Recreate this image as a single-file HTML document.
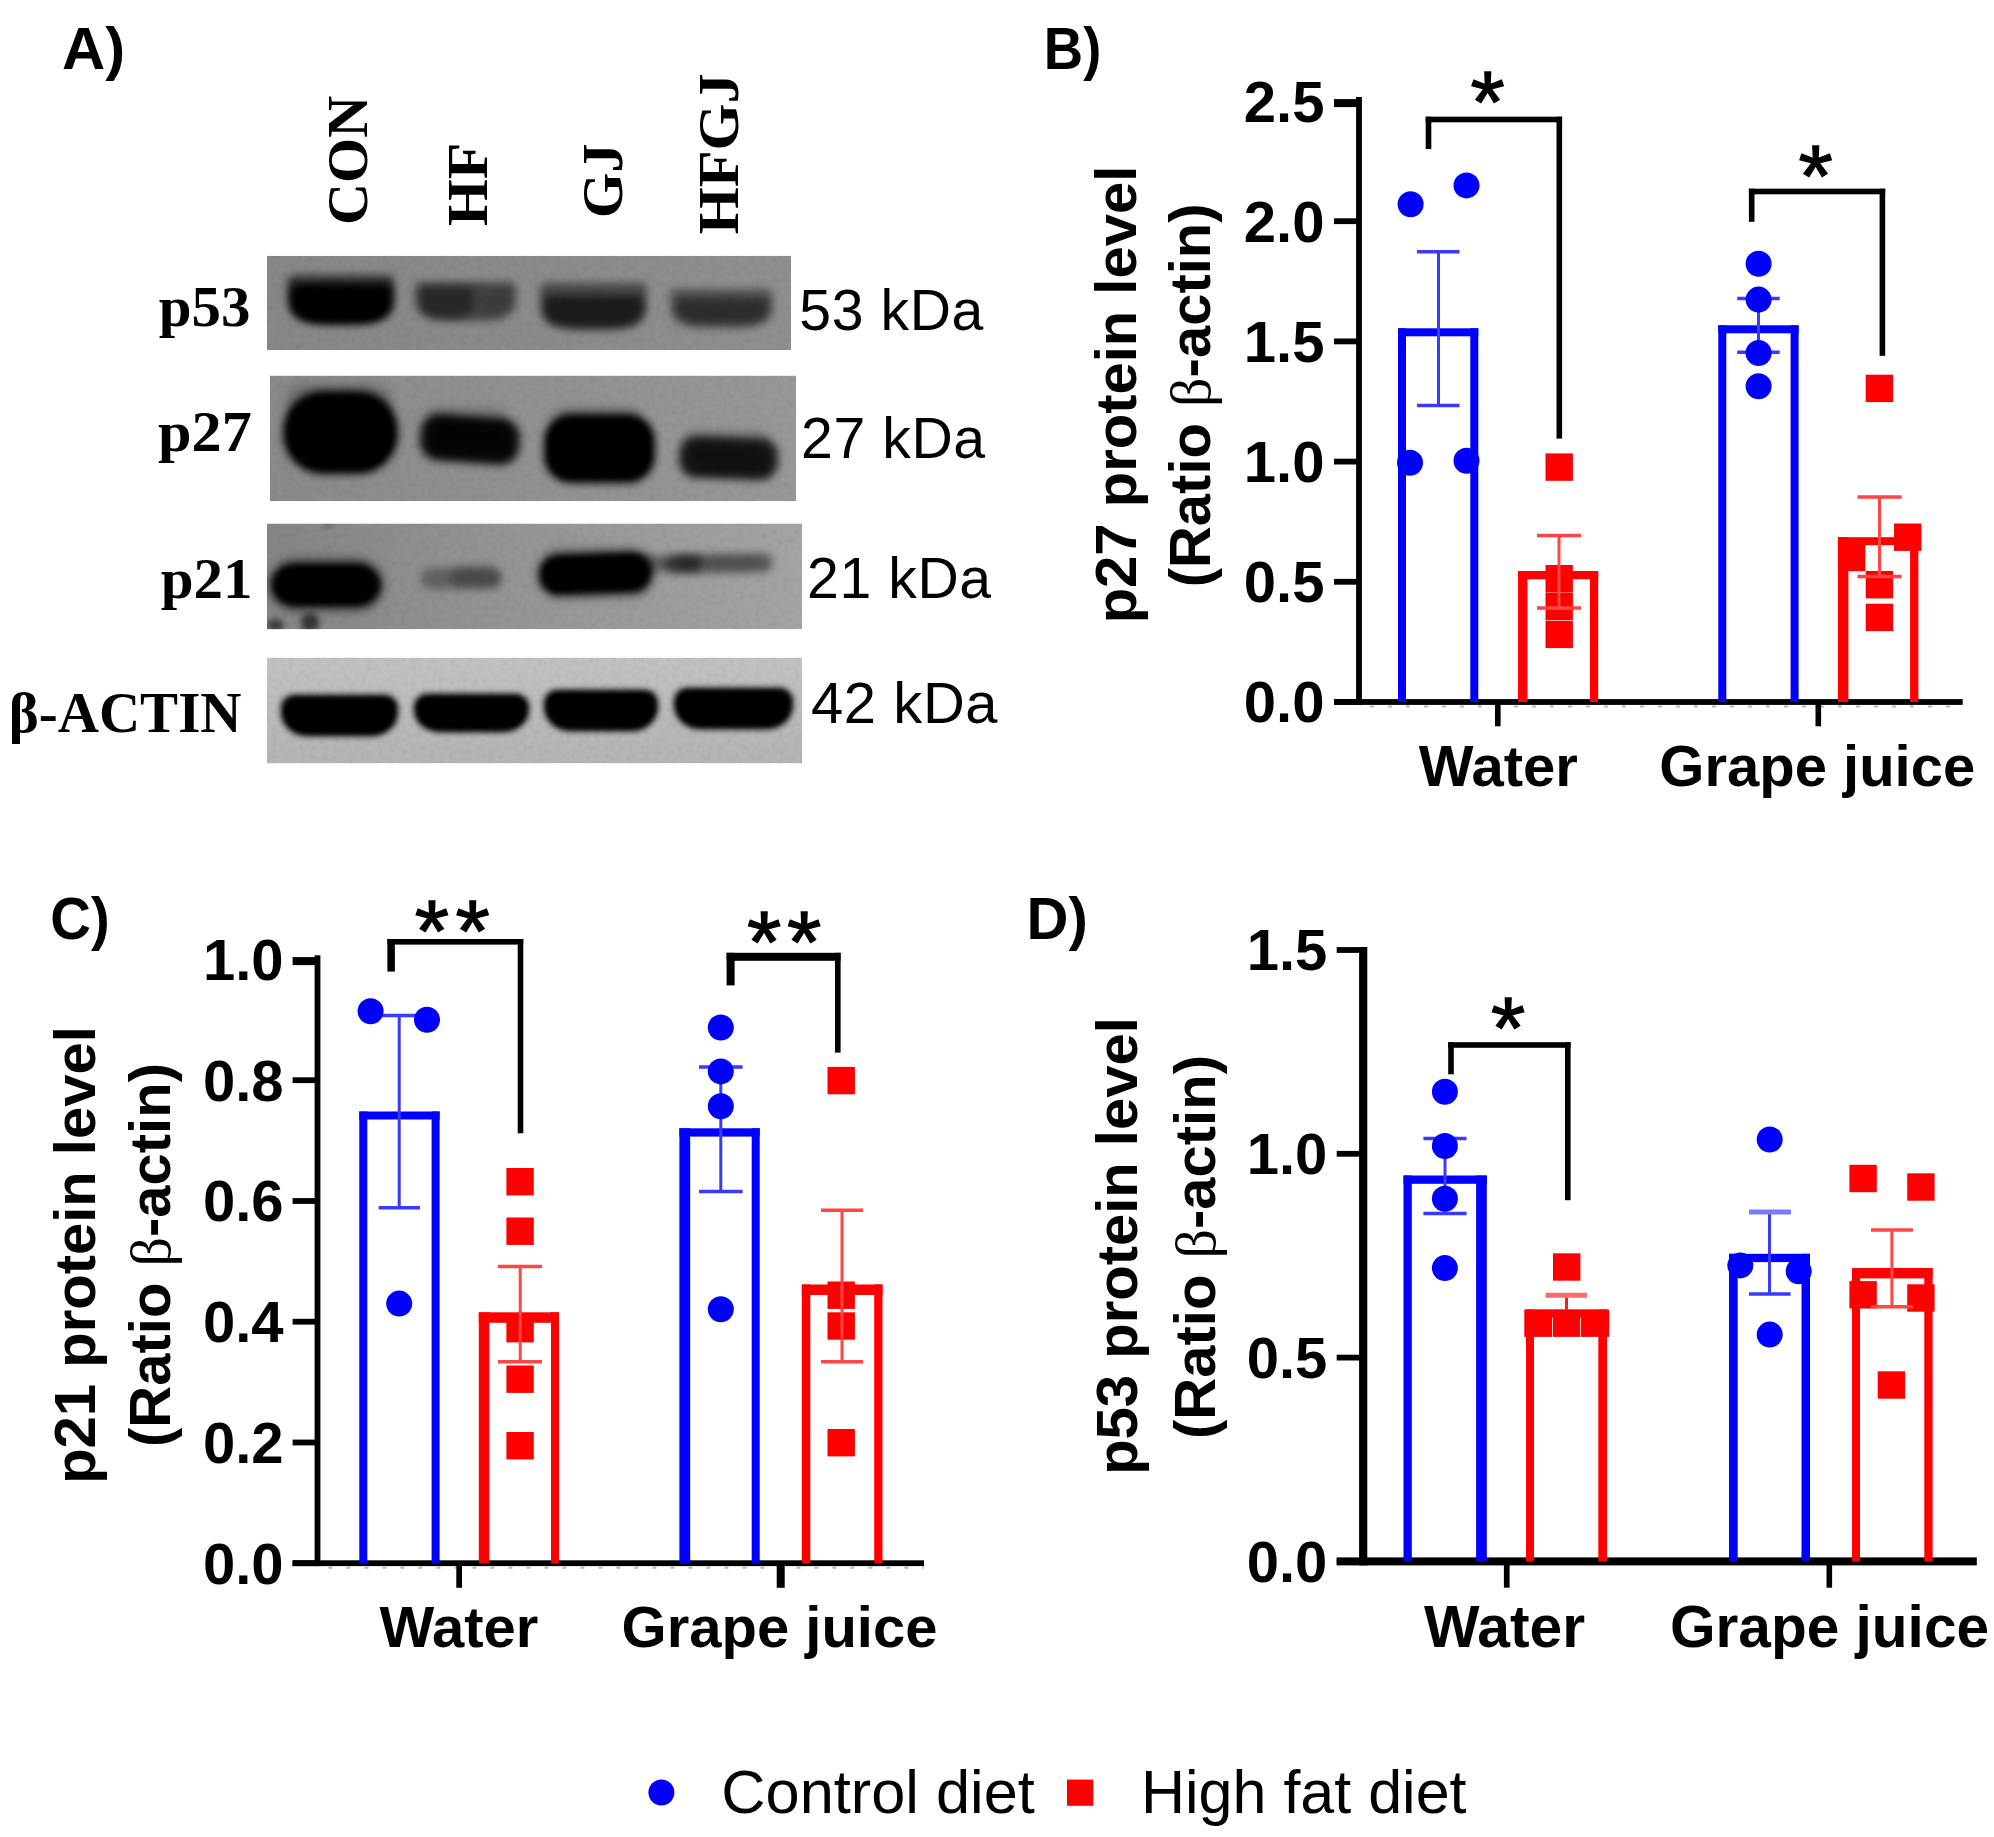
<!DOCTYPE html>
<html lang="en"><head><meta charset="utf-8"><title>Figure</title>
<style>
html,body{margin:0;padding:0;background:#fff;}
body{width:1994px;height:1837px;overflow:hidden;}
svg{display:block;}
</style></head><body>
<svg width="1994" height="1837" viewBox="0 0 1994 1837">
<defs>
<filter id="b3" x="-30%" y="-60%" width="160%" height="220%"><feGaussianBlur stdDeviation="3"/></filter>
<filter id="b4" x="-30%" y="-60%" width="160%" height="220%"><feGaussianBlur stdDeviation="4.2"/></filter>
<filter id="b6" x="-30%" y="-60%" width="160%" height="220%"><feGaussianBlur stdDeviation="6"/></filter>
<filter id="noise" x="0" y="0" width="100%" height="100%">
<feTurbulence type="fractalNoise" baseFrequency="0.18" numOctaves="2" seed="3" result="n"/>
<feColorMatrix type="matrix" values="0 0 0 0 0  0 0 0 0 0  0 0 0 0 0  0.9 0 0 0 -0.38"/>
</filter>
<linearGradient id="g21" x1="0" x2="1" y1="0" y2="0"><stop offset="0" stop-color="#858585"/><stop offset="0.5" stop-color="#969696"/><stop offset="1" stop-color="#a4a4a4"/></linearGradient>
<linearGradient id="g27" x1="0" x2="1" y1="0" y2="0"><stop offset="0" stop-color="#8a8a8a"/><stop offset="1" stop-color="#989898"/></linearGradient>
<linearGradient id="g53" x1="0" x2="1" y1="0" y2="0"><stop offset="0" stop-color="#878787"/><stop offset="1" stop-color="#8f8f8f"/></linearGradient>
<linearGradient id="gac" x1="0" x2="0" y1="0" y2="1"><stop offset="0" stop-color="#c2c2c2"/><stop offset="1" stop-color="#b4b4b4"/></linearGradient>
</defs>
<rect width="1994" height="1837" fill="#fff"/>

<g id="panelA">
<text transform="translate(62.0 69.0) scale(1.02 1)" font-family="Liberation Sans, Arial, sans-serif" font-size="58.6" font-weight="bold" text-anchor="start" fill="#000" >A)</text>
<text transform="translate(367.0 225.0) rotate(-90) scale(1.02 1)" font-family="Liberation Serif, Times New Roman, serif" font-size="57" font-weight="bold" text-anchor="start" fill="#000" >CON</text>
<text transform="translate(487.0 225.9) rotate(-90) scale(1.053 1)" font-family="Liberation Serif, Times New Roman, serif" font-size="57" font-weight="bold" text-anchor="start" fill="#000" >HF</text>
<text transform="translate(621.5 218.0) rotate(-90) scale(1.025 1)" font-family="Liberation Serif, Times New Roman, serif" font-size="57" font-weight="bold" text-anchor="start" fill="#000" >GJ</text>
<text transform="translate(738.0 234.2) rotate(-90) scale(1.058 1)" font-family="Liberation Serif, Times New Roman, serif" font-size="57" font-weight="bold" text-anchor="start" fill="#000" >HFGJ</text>
<text transform="translate(250.5 326.0) scale(1.035 1)" font-family="Liberation Serif, Times New Roman, serif" font-size="57" font-weight="bold" text-anchor="end" fill="#000" >p53</text>
<text transform="translate(251.8 450.8) scale(1.057 1)" font-family="Liberation Serif, Times New Roman, serif" font-size="57" font-weight="bold" text-anchor="end" fill="#000" >p27</text>
<text transform="translate(252.5 598.4) scale(1.035 1)" font-family="Liberation Serif, Times New Roman, serif" font-size="57" font-weight="bold" text-anchor="end" fill="#000" >p21</text>
<text x="241.5" y="731.6" font-family="Liberation Serif, Times New Roman, serif" font-size="57" font-weight="bold" text-anchor="end" fill="#000" >β-ACTIN</text>
<text transform="translate(799.3 329.6) scale(1.011 1)" font-family="Liberation Sans, Arial, sans-serif" font-size="56.5" font-weight="normal" text-anchor="start" fill="#000" letter-spacing="0.6">53 kDa</text>
<text transform="translate(801.0 458.4) scale(1.012 1)" font-family="Liberation Sans, Arial, sans-serif" font-size="56.5" font-weight="normal" text-anchor="start" fill="#000" letter-spacing="0.6">27 kDa</text>
<text transform="translate(807.0 597.8) scale(1.012 1)" font-family="Liberation Sans, Arial, sans-serif" font-size="56.5" font-weight="normal" text-anchor="start" fill="#000" letter-spacing="0.6">21 kDa</text>
<text transform="translate(811.0 723.0) scale(1.025 1)" font-family="Liberation Sans, Arial, sans-serif" font-size="56.5" font-weight="normal" text-anchor="start" fill="#000" letter-spacing="0.6">42 kDa</text>
<clipPath id="cp1"><rect x="267" y="255.7" width="524" height="94.30000000000001"/></clipPath>
<g clip-path="url(#cp1)">
<rect x="267" y="255.7" width="524" height="94.30000000000001" fill="url(#g53)"/>
<path d="M294.0 275.0H388.0Q394.0 275.0 394.0 281.0V295.6C394.0 324.0 370.7 324.0 341.0 324.0C311.3 324.0 288.0 324.0 288.0 295.6V281.0Q288.0 275.0 294.0 275.0Z" fill="#000" fill-opacity="0.62" filter="url(#b4)"/>
<path d="M296.0 284.0H386.0Q392.0 284.0 392.0 290.0V300.4C392.0 323.0 369.6 323.0 341.0 323.0C312.4 323.0 290.0 323.0 290.0 300.4V290.0Q290.0 284.0 296.0 284.0Z" fill="#000" fill-opacity="1.0" filter="url(#b4)"/>
<path d="M303.0 290.0H379.0Q385.0 290.0 385.0 296.0V302.2C385.0 319.0 365.6 319.0 341.0 319.0C316.4 319.0 297.0 319.0 297.0 302.2V296.0Q297.0 290.0 303.0 290.0Z" fill="#000" fill-opacity="0.9" filter="url(#b3)"/>
<path d="M421.0 282.0H510.0Q516.0 282.0 516.0 288.0V298.4C516.0 321.0 493.8 321.0 465.5 321.0C437.2 321.0 415.0 321.0 415.0 298.4V288.0Q415.0 282.0 421.0 282.0Z" fill="#000" fill-opacity="0.5" filter="url(#b4)"/>
<path d="M426.0 287.0H468.0Q474.0 287.0 474.0 293.0V300.0C474.0 318.0 462.1 318.0 447.0 318.0C431.9 318.0 420.0 318.0 420.0 300.0V293.0Q420.0 287.0 426.0 287.0Z" fill="#000" fill-opacity="0.42" filter="url(#b4)"/>
<path d="M484.0 290.0H506.0Q512.0 290.0 512.0 296.0V300.9C512.0 316.0 504.5 316.0 495.0 316.0C485.5 316.0 478.0 316.0 478.0 300.9V296.0Q478.0 290.0 484.0 290.0Z" fill="#000" fill-opacity="0.12" filter="url(#b4)"/>
<path d="M546.0 283.0H641.0Q647.0 283.0 647.0 289.0V302.7C647.0 330.0 623.5 330.0 593.5 330.0C563.5 330.0 540.0 330.0 540.0 302.7V289.0Q540.0 283.0 546.0 283.0Z" fill="#000" fill-opacity="0.5" filter="url(#b4)"/>
<path d="M550.0 296.0H637.0Q643.0 296.0 643.0 302.0V309.0C643.0 327.0 621.2 327.0 593.5 327.0C565.8 327.0 544.0 327.0 544.0 309.0V302.0Q544.0 296.0 550.0 296.0Z" fill="#000" fill-opacity="0.62" filter="url(#b4)"/>
<path d="M676.0 289.0H767.0Q773.0 289.0 773.0 295.0V305.4C773.0 328.0 750.3 328.0 721.5 328.0C692.7 328.0 670.0 328.0 670.0 305.4V295.0Q670.0 289.0 676.0 289.0Z" fill="#000" fill-opacity="0.42" filter="url(#b4)"/>
<path d="M682.0 298.0H762.0Q768.0 298.0 768.0 304.0V308.9C768.0 324.0 747.8 324.0 722.0 324.0C696.2 324.0 676.0 324.0 676.0 308.9V304.0Q676.0 298.0 682.0 298.0Z" fill="#000" fill-opacity="0.45" filter="url(#b4)"/>

<rect x="267" y="255.7" width="524" height="94.30000000000001" fill="#000" filter="url(#noise)" opacity="0.10"/>
</g>
<clipPath id="cp2"><rect x="270" y="375.6" width="526.2" height="125.59999999999997"/></clipPath>
<g clip-path="url(#cp2)">
<rect x="270" y="375.6" width="526.2" height="125.59999999999997" fill="url(#g27)"/>
<rect x="286" y="384" width="106" height="36" rx="18" ry="18.0" fill="#000" fill-opacity="0.22" filter="url(#b6)"/>
<rect x="283" y="391" width="115" height="83" rx="40" ry="40.0" fill="#000" fill-opacity="1.0" filter="url(#b4)"/>
<rect x="289" y="397" width="103" height="71" rx="34" ry="34.0" fill="#000" fill-opacity="1" filter="url(#b3)"/>
<rect x="424" y="408" width="84" height="32" rx="14" ry="14.0" fill="#000" fill-opacity="0.2" filter="url(#b6)"/>
<rect x="420" y="416" width="100" height="47" rx="19" ry="19.0" fill="#000" fill-opacity="0.88" filter="url(#b4)" transform="rotate(4 470.0 439.5)"/>
<rect x="428" y="422" width="84" height="35" rx="14" ry="14.0" fill="#000" fill-opacity="0.7" filter="url(#b3)" transform="rotate(4 470.0 439.5)"/>
<rect x="552" y="408" width="88" height="22" rx="10" ry="10.0" fill="#000" fill-opacity="0.2" filter="url(#b6)"/>
<rect x="544" y="414" width="111" height="69" rx="27" ry="27.0" fill="#000" fill-opacity="1.0" filter="url(#b4)"/>
<rect x="550" y="420" width="99" height="57" rx="21" ry="21.0" fill="#000" fill-opacity="1" filter="url(#b3)"/>
<rect x="684" y="430" width="86" height="22" rx="10" ry="10.0" fill="#000" fill-opacity="0.15" filter="url(#b6)"/>
<rect x="679" y="437" width="99" height="42" rx="17" ry="17.0" fill="#000" fill-opacity="0.8" filter="url(#b4)" transform="rotate(2 728.5 458.0)"/>
<rect x="688" y="446" width="82" height="28" rx="12" ry="12.0" fill="#000" fill-opacity="0.45" filter="url(#b4)" transform="rotate(2 729.0 460.0)"/>

<rect x="270" y="375.6" width="526.2" height="125.59999999999997" fill="#000" filter="url(#noise)" opacity="0.10"/>
</g>
<clipPath id="cp3"><rect x="267" y="523.5" width="535.1" height="105.79999999999995"/></clipPath>
<g clip-path="url(#cp3)">
<rect x="267" y="523.5" width="535.1" height="105.79999999999995" fill="url(#g21)"/>
<rect x="270" y="557" width="114" height="55" rx="27" ry="27.0" fill="#000" fill-opacity="0.25" filter="url(#b6)"/>
<rect x="271" y="563" width="110" height="44" rx="24" ry="22.0" fill="#000" fill-opacity="1.0" filter="url(#b4)"/>
<rect x="276" y="568" width="100" height="34" rx="19" ry="17.0" fill="#000" fill-opacity="1" filter="url(#b3)"/>
<rect x="421" y="568" width="81" height="21" rx="10.5" ry="10.5" fill="#000" fill-opacity="0.33" filter="url(#b4)"/>
<rect x="450" y="566" width="50" height="21" rx="10.5" ry="10.5" fill="#000" fill-opacity="0.25" filter="url(#b4)"/>
<rect x="538" y="548" width="117" height="50" rx="24" ry="24.0" fill="#000" fill-opacity="0.22" filter="url(#b6)"/>
<rect x="539" y="553" width="113" height="41" rx="20" ry="20.0" fill="#000" fill-opacity="1.0" filter="url(#b4)" transform="rotate(-2 595.5 573.5)"/>
<rect x="544" y="558" width="103" height="31" rx="15" ry="15.0" fill="#000" fill-opacity="1" filter="url(#b3)" transform="rotate(-2 595.5 573.5)"/>
<rect x="640" y="556" width="60" height="15" rx="7.5" ry="7.5" fill="#000" fill-opacity="0.4" filter="url(#b4)"/>
<rect x="664" y="554" width="109" height="19" rx="9.5" ry="9.5" fill="#000" fill-opacity="0.42" filter="url(#b4)" transform="rotate(-1 718.5 563.5)"/>
<rect x="675" y="555" width="30" height="16" rx="8.0" ry="8.0" fill="#000" fill-opacity="0.3" filter="url(#b4)"/>
<rect x="705" y="556" width="60" height="14" rx="7.0" ry="7.0" fill="#000" fill-opacity="0.15" filter="url(#b4)"/>
<rect x="301" y="613" width="18" height="19" rx="8" ry="8.0" fill="#000" fill-opacity="0.6" filter="url(#b3)"/>
<rect x="267" y="619" width="17" height="13" rx="8" ry="6.5" fill="#000" fill-opacity="0.55" filter="url(#b3)"/>
<rect x="323" y="523" width="10" height="4" rx="2" ry="2.0" fill="#000" fill-opacity="0.4" filter="url(#b3)"/>

<rect x="267" y="523.5" width="535.1" height="105.79999999999995" fill="#000" filter="url(#noise)" opacity="0.10"/>
</g>
<clipPath id="cp4"><rect x="267" y="657.6" width="535.1" height="105.79999999999995"/></clipPath>
<g clip-path="url(#cp4)">
<rect x="267" y="657.6" width="535.1" height="105.79999999999995" fill="url(#gac)"/>
<path d="M294.0 695.0H385.0A13 13 0 0 1 398.0 708.0V712.2A26 23.8 0 0 1 372.0 736.0H307.0A26 23.8 0 0 1 281.0 712.2V708.0A13 13 0 0 1 294.0 695.0Z" fill="#000" fill-opacity="1.0" filter="url(#b3)"/>
<path d="M296.0 699.0H383.0A10 10 0 0 1 393.0 709.0V712.9A22 19.1 0 0 1 371.0 732.0H308.0A22 19.1 0 0 1 286.0 712.9V709.0A10 10 0 0 1 296.0 699.0Z" fill="#000" fill-opacity="1.0" filter="url(#b3)"/>
<path d="M427.0 694.0H516.0A13 13 0 0 1 529.0 707.0V710.0A26 22.0 0 0 1 503.0 732.0H440.0A26 22.0 0 0 1 414.0 710.0V707.0A13 13 0 0 1 427.0 694.0Z" fill="#000" fill-opacity="1.0" filter="url(#b3)"/>
<path d="M429.0 698.0H514.0A10 10 0 0 1 524.0 708.0V710.6A22 17.4 0 0 1 502.0 728.0H441.0A22 17.4 0 0 1 419.0 710.6V708.0A10 10 0 0 1 429.0 698.0Z" fill="#000" fill-opacity="1.0" filter="url(#b3)"/>
<path d="M557.0 690.0H645.0A13 13 0 0 1 658.0 703.0V707.2A26 23.8 0 0 1 632.0 731.0H570.0A26 23.8 0 0 1 544.0 707.2V703.0A13 13 0 0 1 557.0 690.0Z" fill="#000" fill-opacity="1.0" filter="url(#b3)"/>
<path d="M559.0 694.0H643.0A10 10 0 0 1 653.0 704.0V707.9A22 19.1 0 0 1 631.0 727.0H571.0A22 19.1 0 0 1 549.0 707.9V704.0A10 10 0 0 1 559.0 694.0Z" fill="#000" fill-opacity="1.0" filter="url(#b3)"/>
<path d="M687.0 688.0H780.0A13 13 0 0 1 793.0 701.0V705.2A26 23.8 0 0 1 767.0 729.0H700.0A26 23.8 0 0 1 674.0 705.2V701.0A13 13 0 0 1 687.0 688.0Z" fill="#000" fill-opacity="1.0" filter="url(#b3)"/>
<path d="M689.0 692.0H778.0A10 10 0 0 1 788.0 702.0V705.9A22 19.1 0 0 1 766.0 725.0H701.0A22 19.1 0 0 1 679.0 705.9V702.0A10 10 0 0 1 689.0 692.0Z" fill="#000" fill-opacity="1.0" filter="url(#b3)"/>

<rect x="267" y="657.6" width="535.1" height="105.79999999999995" fill="#000" filter="url(#noise)" opacity="0.10"/>
</g>
</g>
<g id="panelB">
<text transform="translate(1043.8 69.0) scale(0.93 1)" font-family="Liberation Sans, Arial, sans-serif" font-size="58.6" font-weight="bold" text-anchor="start" fill="#000" >B)</text>
<path d="M1369.9 706.5H1962.7" stroke="#b8b8b8" stroke-width="2" stroke-dasharray="4 14" fill="none"/>
<rect x="1356.1" y="97.0" width="5.8" height="607.9" fill="#000" />
<rect x="1334.0" y="699.1" width="628.7" height="5.8" fill="#000" />
<rect x="1334.0" y="99.1" width="25.0" height="8.0" fill="#000" />
<text x="1324.5" y="122.4" font-family="Liberation Sans, Arial, sans-serif" font-size="58" font-weight="bold" text-anchor="end" fill="#000" >2.5</text>
<rect x="1334.0" y="218.3" width="25.0" height="5.8" fill="#000" />
<text x="1324.5" y="241.6" font-family="Liberation Sans, Arial, sans-serif" font-size="58" font-weight="bold" text-anchor="end" fill="#000" >2.0</text>
<rect x="1334.0" y="338.5" width="25.0" height="5.8" fill="#000" />
<text x="1324.5" y="361.8" font-family="Liberation Sans, Arial, sans-serif" font-size="58" font-weight="bold" text-anchor="end" fill="#000" >1.5</text>
<rect x="1334.0" y="458.7" width="25.0" height="5.8" fill="#000" />
<text x="1324.5" y="482.0" font-family="Liberation Sans, Arial, sans-serif" font-size="58" font-weight="bold" text-anchor="end" fill="#000" >1.0</text>
<rect x="1334.0" y="578.9" width="25.0" height="5.8" fill="#000" />
<text x="1324.5" y="602.2" font-family="Liberation Sans, Arial, sans-serif" font-size="58" font-weight="bold" text-anchor="end" fill="#000" >0.5</text>
<rect x="1334.0" y="699.1" width="25.0" height="5.8" fill="#000" />
<text x="1324.5" y="722.4" font-family="Liberation Sans, Arial, sans-serif" font-size="58" font-weight="bold" text-anchor="end" fill="#000" >0.0</text>
<rect x="1495.0" y="702.0" width="5.6" height="24.3" fill="#000" />
<rect x="1815.5" y="702.0" width="5.6" height="24.3" fill="#000" />
<text transform="translate(1136.0 394.5) rotate(-90) scale(1 1)" font-family="Liberation Sans, Arial, sans-serif" font-size="58" font-weight="bold" text-anchor="middle" fill="#000" >p27 protein level</text>
<text transform="translate(1210.3 395.4) rotate(-90)" font-family="Liberation Sans, Arial, sans-serif" font-size="58" font-weight="bold" text-anchor="middle" fill="#000">(Ratio <tspan font-family="Liberation Serif, Times New Roman, serif" font-weight="normal">β</tspan>-actin)</text>
<text x="1498.3" y="786.0" font-family="Liberation Sans, Arial, sans-serif" font-size="58" font-weight="bold" text-anchor="middle" fill="#000" >Water</text>
<text x="1817.3" y="786.4" font-family="Liberation Sans, Arial, sans-serif" font-size="58" font-weight="bold" text-anchor="middle" fill="#000" >Grape juice</text>
<rect x="1398.0" y="328.3" width="8.0" height="373.7" fill="#0000ff" />
<rect x="1470.3" y="328.3" width="8.0" height="373.7" fill="#0000ff" />
<rect x="1398.0" y="328.3" width="80.3" height="8.0" fill="#0000ff" />
<rect x="1518.0" y="571.0" width="9.5" height="131.0" fill="#ff0000" />
<rect x="1589.9" y="571.0" width="8.3" height="131.0" fill="#ff0000" />
<rect x="1518.0" y="571.0" width="80.2" height="8.3" fill="#ff0000" />
<rect x="1718.3" y="325.3" width="8.0" height="376.7" fill="#0000ff" />
<rect x="1790.6" y="325.3" width="8.0" height="376.7" fill="#0000ff" />
<rect x="1718.3" y="325.3" width="80.3" height="8.0" fill="#0000ff" />
<rect x="1837.9" y="537.2" width="10.5" height="164.8" fill="#ff0000" />
<rect x="1910.1" y="537.2" width="8.3" height="164.8" fill="#ff0000" />
<rect x="1837.9" y="537.2" width="80.5" height="8.0" fill="#ff0000" />
<path d="M1438.5 251.8V405.5" stroke="#3a3aff" stroke-width="3" fill="none"/>
<path d="M1417.0 251.8H1459.5" stroke="#3a3aff" stroke-width="3.5" fill="none"/>
<path d="M1417.0 405.5H1459.5" stroke="#3a3aff" stroke-width="3.5" fill="none"/>
<path d="M1758.5 298.5V352.3" stroke="#3a3aff" stroke-width="3" fill="none"/>
<path d="M1737.2 298.5H1779.7" stroke="#3a3aff" stroke-width="3.5" fill="none"/>
<path d="M1737.2 352.3H1779.7" stroke="#3a3aff" stroke-width="3.5" fill="none"/>
<circle cx="1410.6" cy="204.2" r="13" fill="#0000ff"/>
<circle cx="1466.5" cy="185.4" r="13" fill="#0000ff"/>
<circle cx="1410.0" cy="462.7" r="13" fill="#0000ff"/>
<circle cx="1466.5" cy="460.7" r="13" fill="#0000ff"/>
<circle cx="1758.6" cy="263.7" r="13" fill="#0000ff"/>
<circle cx="1758.6" cy="299.6" r="13" fill="#0000ff"/>
<circle cx="1758.6" cy="353.0" r="13" fill="#0000ff"/>
<circle cx="1758.6" cy="386.3" r="13" fill="#0000ff"/>
<rect x="1545.5" y="453.4" width="27.4" height="27.4" fill="#ff0000" />
<rect x="1545.5" y="565.0" width="27.4" height="27.4" fill="#ff0000" />
<rect x="1545.5" y="592.6" width="27.4" height="27.4" fill="#ff0000" />
<rect x="1545.5" y="620.7" width="27.4" height="27.4" fill="#ff0000" />
<rect x="1865.7" y="374.7" width="27.4" height="27.4" fill="#ff0000" />
<rect x="1894.0" y="523.5" width="27.4" height="27.4" fill="#ff0000" />
<rect x="1837.9" y="543.8" width="27.4" height="27.4" fill="#ff0000" />
<rect x="1865.7" y="571.0" width="27.4" height="27.4" fill="#ff0000" />
<rect x="1865.7" y="603.7" width="27.4" height="27.4" fill="#ff0000" />
<path d="M1559.0 535.4V608.0" stroke="#ff4545" stroke-width="3" fill="none"/>
<path d="M1537.0 535.4H1581.0" stroke="#ff4545" stroke-width="3.5" fill="none"/>
<path d="M1537.0 608.0H1581.0" stroke="#ff4545" stroke-width="3.5" fill="none"/>
<path d="M1879.5 496.9V576.4" stroke="#ff4545" stroke-width="3" fill="none"/>
<path d="M1857.5 496.9H1901.7" stroke="#ff4545" stroke-width="3.5" fill="none"/>
<path d="M1857.5 576.4H1901.7" stroke="#ff4545" stroke-width="3.5" fill="none"/>
<rect x="1425.7" y="116.7" width="136.4" height="5.6" fill="#000" />
<rect x="1425.7" y="116.7" width="5.6" height="32.3" fill="#000" />
<rect x="1556.5" y="116.7" width="5.6" height="321.9" fill="#000" />
<rect x="1748.9" y="188.7" width="136.3" height="5.6" fill="#000" />
<rect x="1748.9" y="188.7" width="5.6" height="33.1" fill="#000" />
<rect x="1879.6" y="188.7" width="5.6" height="167.1" fill="#000" />
<text x="1487.6" y="131.9" font-family="Liberation Sans, Arial, sans-serif" font-size="88" text-anchor="middle" fill="#000" stroke="#000" stroke-width="1.3" stroke-linejoin="miter">*</text>
<text x="1815.6" y="205.6" font-family="Liberation Sans, Arial, sans-serif" font-size="88" text-anchor="middle" fill="#000" stroke="#000" stroke-width="1.3" stroke-linejoin="miter">*</text>
</g>
<g id="panelC">
<text transform="translate(50.3 938.5) scale(0.96 1)" font-family="Liberation Sans, Arial, sans-serif" font-size="58.6" font-weight="bold" text-anchor="start" fill="#000" >C)</text>
<path d="M328.4 1567.7H924.0" stroke="#b8b8b8" stroke-width="2" stroke-dasharray="4 14" fill="none"/>
<rect x="314.6" y="955.3" width="5.8" height="610.8" fill="#000" />
<rect x="292.6" y="1560.3" width="631.4" height="5.8" fill="#000" />
<rect x="292.6" y="957.1" width="24.9" height="8.0" fill="#000" />
<text x="283.6" y="980.4" font-family="Liberation Sans, Arial, sans-serif" font-size="58" font-weight="bold" text-anchor="end" fill="#000" >1.0</text>
<rect x="292.6" y="1077.3" width="24.9" height="5.8" fill="#000" />
<text x="283.6" y="1100.6" font-family="Liberation Sans, Arial, sans-serif" font-size="58" font-weight="bold" text-anchor="end" fill="#000" >0.8</text>
<rect x="292.6" y="1198.1" width="24.9" height="5.8" fill="#000" />
<text x="283.6" y="1221.4" font-family="Liberation Sans, Arial, sans-serif" font-size="58" font-weight="bold" text-anchor="end" fill="#000" >0.6</text>
<rect x="292.6" y="1318.8" width="24.9" height="5.8" fill="#000" />
<text x="283.6" y="1342.1" font-family="Liberation Sans, Arial, sans-serif" font-size="58" font-weight="bold" text-anchor="end" fill="#000" >0.4</text>
<rect x="292.6" y="1439.6" width="24.9" height="5.8" fill="#000" />
<text x="283.6" y="1462.9" font-family="Liberation Sans, Arial, sans-serif" font-size="58" font-weight="bold" text-anchor="end" fill="#000" >0.2</text>
<rect x="292.6" y="1560.3" width="24.9" height="5.8" fill="#000" />
<text x="283.6" y="1583.6" font-family="Liberation Sans, Arial, sans-serif" font-size="58" font-weight="bold" text-anchor="end" fill="#000" >0.0</text>
<rect x="456.3" y="1563.2" width="5.7" height="24.6" fill="#000" />
<rect x="776.7" y="1563.2" width="8.0" height="24.6" fill="#000" />
<text transform="translate(95.0 1255.0) rotate(-90) scale(1 1)" font-family="Liberation Sans, Arial, sans-serif" font-size="58" font-weight="bold" text-anchor="middle" fill="#000" >p21 protein level</text>
<text transform="translate(170.3 1255) rotate(-90)" font-family="Liberation Sans, Arial, sans-serif" font-size="58" font-weight="bold" text-anchor="middle" fill="#000">(Ratio <tspan font-family="Liberation Serif, Times New Roman, serif" font-weight="normal">β</tspan>-actin)</text>
<text x="458.9" y="1647.0" font-family="Liberation Sans, Arial, sans-serif" font-size="58" font-weight="bold" text-anchor="middle" fill="#000" >Water</text>
<text x="779.5" y="1647.0" font-family="Liberation Sans, Arial, sans-serif" font-size="58" font-weight="bold" text-anchor="middle" fill="#000" >Grape juice</text>
<rect x="359.3" y="1111.5" width="8.0" height="451.7" fill="#0000ff" />
<rect x="431.6" y="1111.5" width="8.0" height="451.7" fill="#0000ff" />
<rect x="359.3" y="1111.5" width="80.3" height="8.0" fill="#0000ff" />
<rect x="478.8" y="1312.3" width="10.5" height="250.9" fill="#ff0000" />
<rect x="551.0" y="1312.3" width="8.0" height="250.9" fill="#ff0000" />
<rect x="478.8" y="1312.3" width="80.2" height="10.5" fill="#ff0000" />
<rect x="679.4" y="1128.3" width="10.8" height="434.9" fill="#0000ff" />
<rect x="751.7" y="1128.3" width="8.0" height="434.9" fill="#0000ff" />
<rect x="679.4" y="1128.3" width="80.3" height="8.3" fill="#0000ff" />
<rect x="801.8" y="1284.5" width="8.5" height="278.7" fill="#ff0000" />
<rect x="874.2" y="1284.5" width="8.3" height="278.7" fill="#ff0000" />
<rect x="801.8" y="1284.5" width="80.7" height="10.5" fill="#ff0000" />
<path d="M399.2 1015.5V1207.8" stroke="#3a3aff" stroke-width="3" fill="none"/>
<path d="M378.6 1015.5H420.0" stroke="#3a3aff" stroke-width="3.5" fill="none"/>
<path d="M378.6 1207.8H420.0" stroke="#3a3aff" stroke-width="3.5" fill="none"/>
<path d="M720.8 1066.9V1191.5" stroke="#3a3aff" stroke-width="3" fill="none"/>
<path d="M699.0 1066.9H742.6" stroke="#3a3aff" stroke-width="3.5" fill="none"/>
<path d="M699.0 1191.5H742.6" stroke="#3a3aff" stroke-width="3.5" fill="none"/>
<circle cx="370.6" cy="1011.2" r="13" fill="#0000ff"/>
<circle cx="427.0" cy="1019.7" r="13" fill="#0000ff"/>
<circle cx="399.2" cy="1303.6" r="13" fill="#0000ff"/>
<circle cx="720.8" cy="1027.5" r="13" fill="#0000ff"/>
<circle cx="720.8" cy="1071.4" r="13" fill="#0000ff"/>
<circle cx="720.8" cy="1106.2" r="13" fill="#0000ff"/>
<circle cx="720.8" cy="1309.3" r="13" fill="#0000ff"/>
<rect x="506.4" y="1168.0" width="27.4" height="27.4" fill="#ff0000" />
<rect x="506.4" y="1217.5" width="27.4" height="27.4" fill="#ff0000" />
<rect x="506.4" y="1315.0" width="27.4" height="27.4" fill="#ff0000" />
<rect x="506.4" y="1365.5" width="27.4" height="27.4" fill="#ff0000" />
<rect x="506.4" y="1432.0" width="27.4" height="27.4" fill="#ff0000" />
<rect x="827.5" y="1066.9" width="27.4" height="27.4" fill="#ff0000" />
<rect x="827.5" y="1281.5" width="27.4" height="27.4" fill="#ff0000" />
<rect x="827.5" y="1312.3" width="27.4" height="27.4" fill="#ff0000" />
<rect x="827.5" y="1429.0" width="27.4" height="27.4" fill="#ff0000" />
<path d="M520.2 1266.4V1361.7" stroke="#ff4545" stroke-width="3" fill="none"/>
<path d="M498.0 1266.4H542.0" stroke="#ff4545" stroke-width="3.5" fill="none"/>
<path d="M498.0 1361.7H542.0" stroke="#ff4545" stroke-width="3.5" fill="none"/>
<path d="M842.0 1210.3V1361.7" stroke="#ff4545" stroke-width="3" fill="none"/>
<path d="M821.0 1210.3H863.0" stroke="#ff4545" stroke-width="3.5" fill="none"/>
<path d="M821.0 1361.7H863.0" stroke="#ff4545" stroke-width="3.5" fill="none"/>
<rect x="387.4" y="939.0" width="135.8" height="5.6" fill="#000" />
<rect x="387.4" y="939.0" width="7.5" height="32.6" fill="#000" />
<rect x="517.7" y="939.0" width="5.6" height="194.3" fill="#000" />
<rect x="726.6" y="952.8" width="114.0" height="8.0" fill="#000" />
<rect x="726.6" y="952.8" width="8.0" height="32.6" fill="#000" />
<rect x="835.0" y="952.8" width="5.6" height="99.8" fill="#000" />
<text x="431.8" y="960.9" font-family="Liberation Sans, Arial, sans-serif" font-size="88" text-anchor="middle" fill="#000" stroke="#000" stroke-width="1.3" stroke-linejoin="miter">*</text>
<text x="472.7" y="960.9" font-family="Liberation Sans, Arial, sans-serif" font-size="88" text-anchor="middle" fill="#000" stroke="#000" stroke-width="1.3" stroke-linejoin="miter">*</text>
<text x="764.2" y="972.4" font-family="Liberation Sans, Arial, sans-serif" font-size="88" text-anchor="middle" fill="#000" stroke="#000" stroke-width="1.3" stroke-linejoin="miter">*</text>
<text x="804.0" y="972.4" font-family="Liberation Sans, Arial, sans-serif" font-size="88" text-anchor="middle" fill="#000" stroke="#000" stroke-width="1.3" stroke-linejoin="miter">*</text>
</g>
<g id="panelD">
<text transform="translate(1026.5 938.5) scale(0.99 1)" font-family="Liberation Sans, Arial, sans-serif" font-size="58.6" font-weight="bold" text-anchor="start" fill="#000" >D)</text>
<rect x="1359.1" y="947.0" width="8.2" height="618.4" fill="#000" />
<rect x="1336.7" y="1557.4" width="640.1" height="8.0" fill="#000" />
<rect x="1336.7" y="947.1" width="26.5" height="5.8" fill="#000" />
<text x="1327.4" y="970.4" font-family="Liberation Sans, Arial, sans-serif" font-size="58" font-weight="bold" text-anchor="end" fill="#000" >1.5</text>
<rect x="1336.7" y="1150.9" width="26.5" height="5.8" fill="#000" />
<text x="1327.4" y="1174.2" font-family="Liberation Sans, Arial, sans-serif" font-size="58" font-weight="bold" text-anchor="end" fill="#000" >1.0</text>
<rect x="1336.7" y="1354.7" width="26.5" height="5.8" fill="#000" />
<text x="1327.4" y="1378.0" font-family="Liberation Sans, Arial, sans-serif" font-size="58" font-weight="bold" text-anchor="end" fill="#000" >0.5</text>
<rect x="1336.7" y="1558.5" width="26.5" height="5.8" fill="#000" />
<text x="1327.4" y="1581.8" font-family="Liberation Sans, Arial, sans-serif" font-size="58" font-weight="bold" text-anchor="end" fill="#000" >0.0</text>
<rect x="1503.9" y="1561.4" width="5.7" height="26.3" fill="#000" />
<rect x="1826.5" y="1561.4" width="5.6" height="26.3" fill="#000" />
<text transform="translate(1137.2 1246.0) rotate(-90) scale(1 1)" font-family="Liberation Sans, Arial, sans-serif" font-size="58" font-weight="bold" text-anchor="middle" fill="#000" >p53 protein level</text>
<text transform="translate(1215.2 1247) rotate(-90)" font-family="Liberation Sans, Arial, sans-serif" font-size="58" font-weight="bold" text-anchor="middle" fill="#000">(Ratio <tspan font-family="Liberation Serif, Times New Roman, serif" font-weight="normal">β</tspan>-actin)</text>
<text x="1504.6" y="1646.8" font-family="Liberation Sans, Arial, sans-serif" font-size="58.8" font-weight="bold" text-anchor="middle" fill="#000" >Water</text>
<text x="1829.5" y="1646.6" font-family="Liberation Sans, Arial, sans-serif" font-size="58.6" font-weight="bold" text-anchor="middle" fill="#000" >Grape juice</text>
<rect x="1403.5" y="1175.5" width="8.3" height="385.9" fill="#0000ff" />
<rect x="1476.1" y="1175.5" width="10.7" height="385.9" fill="#0000ff" />
<rect x="1403.5" y="1175.5" width="83.3" height="8.3" fill="#0000ff" />
<rect x="1526.0" y="1309.6" width="8.0" height="251.8" fill="#ff0000" />
<rect x="1598.3" y="1309.6" width="8.7" height="251.8" fill="#ff0000" />
<rect x="1526.0" y="1309.6" width="81.0" height="8.0" fill="#ff0000" />
<rect x="1729.0" y="1253.8" width="8.7" height="307.6" fill="#0000ff" />
<rect x="1801.5" y="1253.8" width="8.5" height="307.6" fill="#0000ff" />
<rect x="1729.0" y="1253.8" width="81.0" height="8.3" fill="#0000ff" />
<rect x="1852.0" y="1268.0" width="8.0" height="293.4" fill="#ff0000" />
<rect x="1924.3" y="1268.0" width="8.3" height="293.4" fill="#ff0000" />
<rect x="1852.0" y="1268.0" width="80.6" height="10.4" fill="#ff0000" />
<path d="M1445.0 1138.6V1213.6" stroke="#3a3aff" stroke-width="3" fill="none"/>
<path d="M1423.4 1138.6H1466.5" stroke="#3a3aff" stroke-width="3.5" fill="none"/>
<path d="M1423.4 1213.6H1466.5" stroke="#3a3aff" stroke-width="3.5" fill="none"/>
<path d="M1769.5 1212.0V1293.9" stroke="#3a3aff" stroke-width="3" fill="none"/>
<path d="M1749.0 1212.0H1790.6" stroke="#3a3aff" stroke-width="3.5" fill="none"/>
<path d="M1749.0 1293.9H1790.6" stroke="#3a3aff" stroke-width="3.5" fill="none"/>
<path d="M1749 1212H1790.6" stroke="#7a7aff" stroke-width="5" fill="none"/>
<circle cx="1444.9" cy="1091.8" r="13" fill="#0000ff"/>
<circle cx="1444.9" cy="1146.0" r="13" fill="#0000ff"/>
<circle cx="1444.9" cy="1198.8" r="13" fill="#0000ff"/>
<circle cx="1444.9" cy="1268.1" r="13" fill="#0000ff"/>
<circle cx="1769.7" cy="1139.5" r="13" fill="#0000ff"/>
<circle cx="1740.3" cy="1265.4" r="13" fill="#0000ff"/>
<circle cx="1798.7" cy="1271.2" r="13" fill="#0000ff"/>
<circle cx="1769.7" cy="1334.6" r="13" fill="#0000ff"/>
<rect x="1553.0" y="1253.3" width="27.4" height="27.4" fill="#ff0000" />
<rect x="1524.3" y="1309.5" width="27.9" height="27.4" fill="#ff0000" />
<rect x="1553.0" y="1309.5" width="27.2" height="27.4" fill="#ff0000" />
<rect x="1581.0" y="1309.5" width="28.2" height="27.4" fill="#ff0000" />
<rect x="1849.4" y="1164.8" width="27.4" height="27.4" fill="#ff0000" />
<rect x="1907.2" y="1173.3" width="27.4" height="27.4" fill="#ff0000" />
<rect x="1849.4" y="1281.1" width="27.4" height="27.4" fill="#ff0000" />
<rect x="1907.2" y="1284.3" width="27.4" height="27.4" fill="#ff0000" />
<rect x="1877.7" y="1371.3" width="27.4" height="27.4" fill="#ff0000" />
<path d="M1566.5 1295.3V1310" stroke="#ff1a1a" stroke-width="3" fill="none"/>
<path d="M1545.6 1295.3H1587" stroke="#ff6a6a" stroke-width="5" fill="none"/>
<path d="M1891.9 1229.9V1306.7" stroke="#ff4545" stroke-width="3" fill="none"/>
<path d="M1871.0 1229.9H1913.0" stroke="#ff4545" stroke-width="3.5" fill="none"/>
<path d="M1871.0 1306.7H1913.0" stroke="#ff4545" stroke-width="3.5" fill="none"/>
<rect x="1448.2" y="1042.2" width="122.4" height="5.6" fill="#000" />
<rect x="1448.2" y="1042.2" width="5.6" height="32.1" fill="#000" />
<rect x="1565.0" y="1042.2" width="5.6" height="158.0" fill="#000" />
<text x="1508.0" y="1058.4" font-family="Liberation Sans, Arial, sans-serif" font-size="88" text-anchor="middle" fill="#000" stroke="#000" stroke-width="1.3" stroke-linejoin="miter">*</text>
</g>
<g id="legend">
<circle cx="661.4" cy="1792.5" r="13" fill="#0000ff"/>
<text x="721.3" y="1812.5" font-family="Liberation Sans, Arial, sans-serif" font-size="61.3" font-weight="normal" text-anchor="start" fill="#000" >Control diet</text>
<rect x="1067.0" y="1779.6" width="26.3" height="26.2" fill="#ff0000" />
<text x="1141.0" y="1812.5" font-family="Liberation Sans, Arial, sans-serif" font-size="61" font-weight="normal" text-anchor="start" fill="#000" >High fat diet</text>
</g>
</svg>
</body></html>
